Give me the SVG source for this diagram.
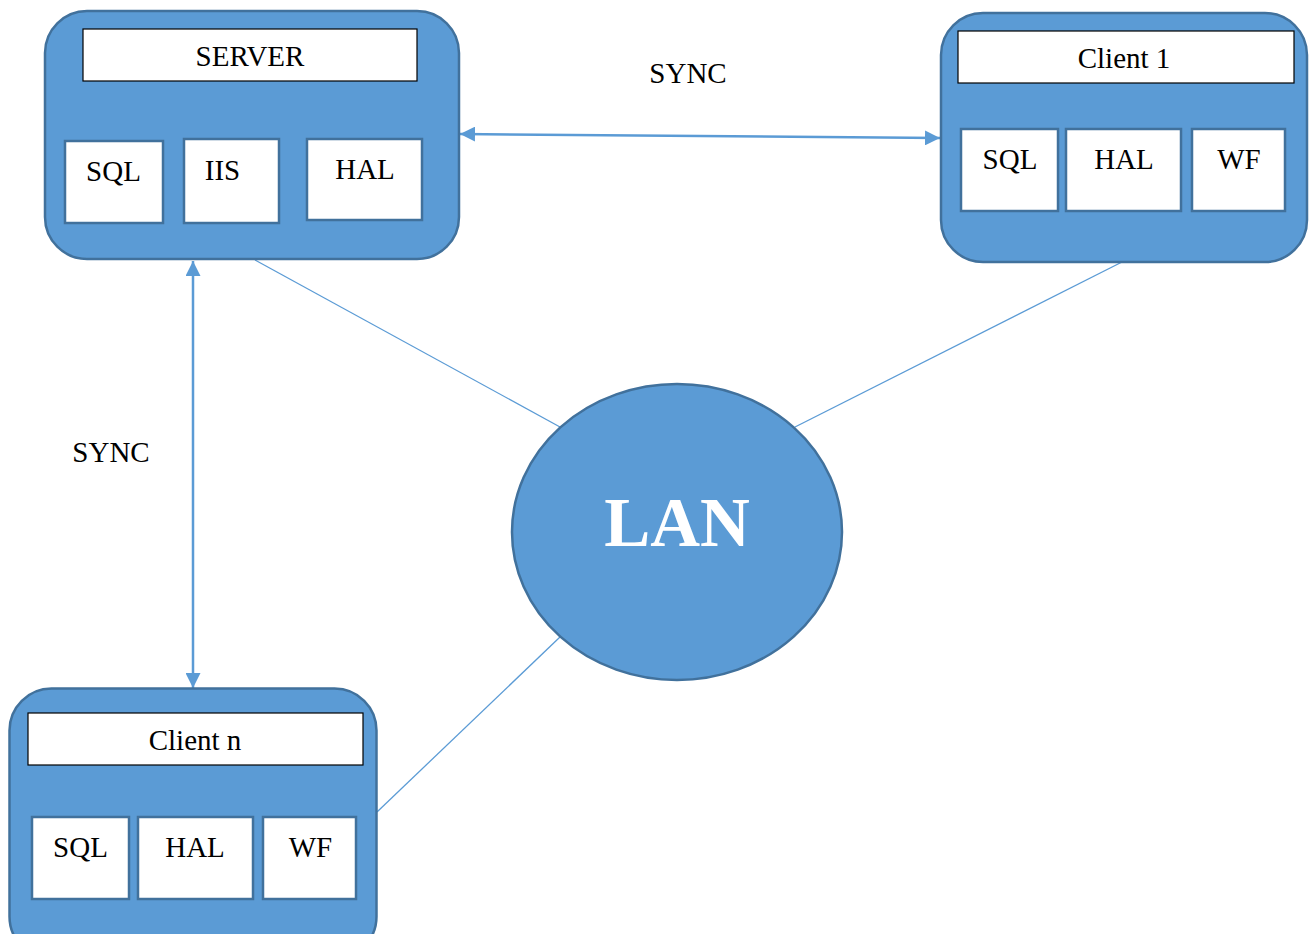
<svg xmlns="http://www.w3.org/2000/svg" width="1312" height="934" viewBox="0 0 1312 934">
<style>
.node{fill:#5b9bd5;stroke:#41719c;stroke-width:2.5}
.title{fill:#fff;stroke:#000;stroke-width:1.2}
.comp{fill:#fff;stroke:#41719c;stroke-width:2.5}
.t{font-family:"Liberation Serif","Times New Roman",serif;font-size:29px;fill:#000;text-anchor:middle}
.lan{font-family:"Liberation Serif","Times New Roman",serif;font-size:69px;font-weight:bold;fill:#fff;text-anchor:middle}
.link{stroke:#5b9bd5;stroke-width:1.3;fill:none}
.sync{stroke:#5b9bd5;stroke-width:2.5;fill:none;marker-start:url(#ah);marker-end:url(#ah)}
</style>
<defs>
<marker id="ah" viewBox="0 0 10 10" refX="10" refY="5" markerWidth="6" markerHeight="6" orient="auto-start-reverse" markerUnits="strokeWidth">
<path d="M0,0 L10,5 L0,10 z" fill="#5b9bd5"/>
</marker>
</defs>
<rect width="1312" height="934" fill="#fff"/>
<g id="connectors">
<line class="link" x1="255" y1="260" x2="560" y2="427"/>
<line class="link" x1="1122" y1="262" x2="795" y2="427"/>
<line class="link" x1="377" y1="812" x2="560" y2="637"/>
<line class="sync" x1="460" y1="134" x2="940" y2="138"/>
<line class="sync" x1="193" y1="261" x2="193" y2="688"/>
<text class="t" x="688" y="83">SYNC</text>
<text class="t" x="111" y="462">SYNC</text>
</g>
<g id="server">
<rect class="node" x="45" y="11" width="414" height="248" rx="42"/>
<rect class="title" x="83" y="29" width="334" height="52"/>
<text class="t" x="250" y="66">SERVER</text>
<rect class="comp" x="65" y="141" width="98" height="82"/>
<text class="t" x="113.5" y="181">SQL</text>
<rect class="comp" x="184" y="139" width="95" height="84"/>
<text class="t" x="222.5" y="180">IIS</text>
<rect class="comp" x="307" y="139" width="115" height="81"/>
<text class="t" x="365" y="179">HAL</text>
</g>
<g id="client1">
<rect class="node" x="941" y="13" width="366" height="249" rx="42"/>
<rect class="title" x="958" y="31" width="336" height="52"/>
<text class="t" x="1124" y="68">Client 1</text>
<rect class="comp" x="961" y="129" width="97" height="82"/>
<text class="t" x="1010" y="169">SQL</text>
<rect class="comp" x="1066" y="129" width="115" height="82"/>
<text class="t" x="1124" y="169">HAL</text>
<rect class="comp" x="1192" y="129" width="93" height="82"/>
<text class="t" x="1239" y="169">WF</text>
</g>
<g id="clientn">
<rect class="node" x="9.5" y="688.5" width="367" height="270" rx="42"/>
<rect class="title" x="28" y="713" width="335" height="52"/>
<text class="t" x="195" y="750">Client n</text>
<rect class="comp" x="32" y="817" width="97" height="82"/>
<text class="t" x="80.5" y="857">SQL</text>
<rect class="comp" x="138" y="817" width="115" height="82"/>
<text class="t" x="195" y="857">HAL</text>
<rect class="comp" x="263" y="817" width="93" height="82"/>
<text class="t" x="310.5" y="857">WF</text>
</g>
<g id="lan">
<ellipse class="node" cx="677" cy="532" rx="165" ry="148"/>
<text class="lan" x="677" y="546">LAN</text>
</g>
</svg>
